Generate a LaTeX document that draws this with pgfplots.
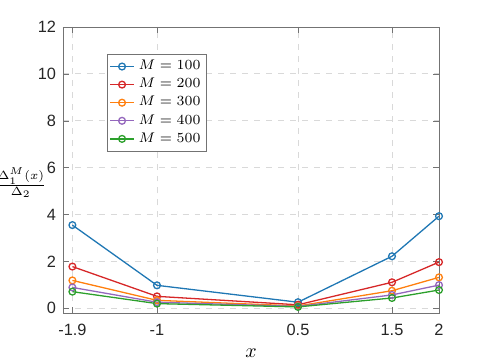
\documentclass[border=0pt]{standalone}
\usepackage{pgfplots}
\pgfplotsset{compat=1.18}
\usepackage{fontspec}
\setmainfont{Liberation Sans}

\definecolor{cA}{HTML}{1F77B4}
\definecolor{cB}{HTML}{D62728}
\definecolor{cC}{HTML}{FF7F0E}
\definecolor{cD}{HTML}{9467BD}
\definecolor{cE}{HTML}{2CA02C}

\begin{document}
\begin{tikzpicture}
\begin{axis}[
  scale only axis,
  width=188bp, height=143bp,
  xmin=-2, xmax=2,
  ymin=-0.2, ymax=12,
  xtick={-1.9,-1,0.5,1.5,2},
  xticklabels={-1.9,-1,0.5,1.5,2},
  ytick={0,2,...,12},
  tick align=inside,
  tick pos=both,
  major tick length=3bp,
  axis line style={black!55},
  tick style={black!55},
  grid=major,
  grid style={dashed, black!15},
  /pgf/number format/assume math mode=true,
  ticklabel style={font=\fontsize{8.2}{9}\selectfont, text=black!85},
  xticklabel style={yshift=-2bp},
  xlabel={$x$},
  xlabel style={font=\fontsize{10}{12}\selectfont, yshift=0bp},
  ylabel={$\frac{\Delta_1^M(x)}{\Delta_2}$},
  ylabel style={font=\fontsize{8}{10}\selectfont, rotate=-90, at={(rel axis cs:0,0.455)}, anchor=east, inner sep=0pt, xshift=-8bp},
  legend style={at={(rel axis cs:0.117,0.906)}, anchor=north west,
    draw=black!55, fill=white, font=\fontsize{7.2}{8}\selectfont,
    inner sep=1bp, row sep=-1.2bp, cells={anchor=west}},
  legend image code/.code={
    \draw[#1, mark repeat=2, mark phase=2] plot coordinates {(0bp,0bp) (6bp,0bp) (12bp,0bp)};
  },
  every axis plot/.append style={line width=0.65pt, mark=o, mark size=1.7bp, mark options={solid, line width=0.65pt}},
]
\addplot[cA] coordinates {(-1.9,3.55) (-1,0.98) (0.5,0.26) (1.5,2.22) (2,3.93)};
\addlegendentry{$M=100$}
\addplot[cB] coordinates {(-1.9,1.78) (-1,0.51) (0.5,0.15) (1.5,1.11) (2,1.97)};
\addlegendentry{$M=200$}
\addplot[cC] coordinates {(-1.9,1.19) (-1,0.34) (0.5,0.10) (1.5,0.75) (2,1.32)};
\addlegendentry{$M=300$}
\addplot[cD] coordinates {(-1.9,0.89) (-1,0.26) (0.5,0.08) (1.5,0.57) (2,0.99)};
\addlegendentry{$M=400$}
\addplot[cE] coordinates {(-1.9,0.71) (-1,0.20) (0.5,0.06) (1.5,0.44) (2,0.78)};
\addlegendentry{$M=500$}
\end{axis}
\pgfresetboundingbox
\path ([shift={(-31.5bp,-25bp)}]current axis.south west) rectangle ([shift={(23bp,13.5bp)}]current axis.north east);
\end{tikzpicture}
\end{document}
